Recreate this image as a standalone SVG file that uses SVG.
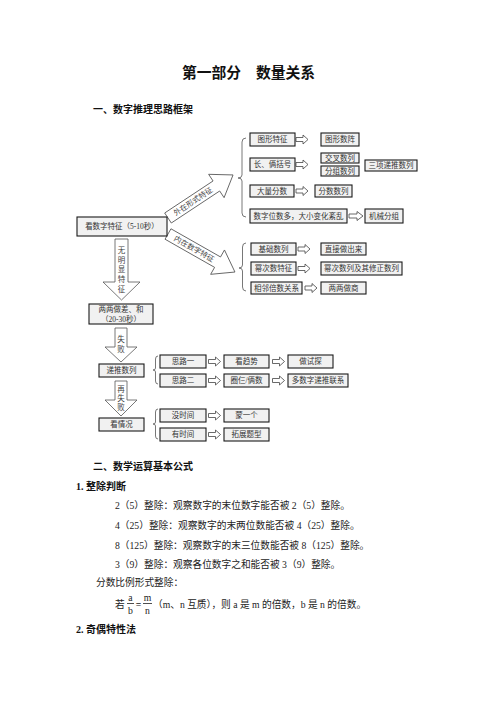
<svg xmlns="http://www.w3.org/2000/svg" width="496" height="702" viewBox="0 0 496 702">
<style>
text{font-family:"Liberation Serif","Noto Sans CJK SC",serif;}
.box{fill:#f1f1f1;stroke:#1a1a1a;stroke-width:1.1;}
.bt{font-size:7.5px;fill:#333;text-anchor:middle;}
.ha{fill:#fff;stroke:#444;stroke-width:0.8;}
.big{fill:#fff;stroke:#555;stroke-width:0.8;}
.br{fill:none;stroke:#555;stroke-width:0.8;}
.at{font-size:7.5px;fill:#444;text-anchor:middle;}
.body{font-size:9.7px;fill:#222;}
.hd{font-size:10px;font-weight:bold;fill:#111;}
</style>
<defs>
<polygon id="sa" class="ha" points="0,-2 7,-2 7,-4.5 12,0 7,4.5 7,2 0,2"/>
</defs>
<rect width="496" height="702" fill="#fff"/>

<g id="title">
<text x="248.5" y="78" font-size="14.8" font-weight="bold" text-anchor="middle" fill="#111">第一部分　数量关系</text>
<text x="93" y="113" class="hd">一、数字推理思路框架</text>
</g>

<g id="connectors">
<g transform="translate(168,218) rotate(-33.5)">
<polygon class="big" points="0,-6 58,-6 58,-14 78,0 58,14 58,6 0,6"/>
<text x="30" y="2.6" class="at">外在形式特征</text>
</g>
<g transform="translate(168,234) rotate(29.6)">
<polygon class="big" points="0,-6 57,-6 57,-14 77,0 57,14 57,6 0,6"/>
<text x="30" y="2.6" class="at">内在数字特征</text>
</g>
<polygon class="big" points="115,239 128,239 128,282 140,282 121.5,300 103,282 115,282"/>
<text class="at"><tspan x="121.5" y="253">无</tspan><tspan x="121.5" y="262.5">明</tspan><tspan x="121.5" y="272">显</tspan><tspan x="121.5" y="282">特</tspan><tspan x="121.5" y="292">征</tspan></text>
<polygon class="big" points="115,328 127,328 127,347 137,347 121,362 105,347 115,347"/>
<text class="at"><tspan x="121" y="342">失</tspan><tspan x="121" y="352">败</tspan></text>
<polygon class="big" points="115,381 127,381 127,400 137,400 121,416 105,400 115,400"/>
<text class="at"><tspan x="121" y="392">再</tspan><tspan x="121" y="401">失</tspan><tspan x="121" y="410">败</tspan></text>
<path class="br" d="M246,138 Q242,138 242,142 L242,175 Q242,178 238,178 Q242,178 242,181 L242,213 Q242,217 246,217"/>
<path class="br" d="M246,243 Q242.5,243 242.5,247 L242.5,265 Q242.5,268 239,268 Q242.5,268 242.5,271 L242.5,287 Q242.5,291 246,291"/>
<path class="br" d="M158,356 Q155.5,356 155.5,359 L155.5,368 Q155.5,370 153,370 Q155.5,370 155.5,372 L155.5,381 Q155.5,384 158,384"/>
<path class="br" d="M158,409 Q155.5,409 155.5,412 L155.5,422 Q155.5,424 153,424 Q155.5,424 155.5,426 L155.5,436 Q155.5,439 158,439"/>
<use href="#sa" x="296" y="139.5"/>
<use href="#sa" x="296" y="164.5"/>
<use href="#sa" x="296" y="191"/>
<polygon class="ha" points="349,214 357,214 357,211.5 363,216 357,220.5 357,218 349,218"/>
<use href="#sa" x="298" y="249"/>
<use href="#sa" x="298" y="268.5"/>
<use href="#sa" x="305" y="288"/>
<use href="#sa" x="208.5" y="361.5"/>
<use href="#sa" x="208.5" y="380.5"/>
<use href="#sa" x="208.5" y="415.5"/>
<use href="#sa" x="208.5" y="434.5"/>
<use href="#sa" x="272.5" y="361.5"/>
<use href="#sa" x="272.5" y="380.5"/>
</g>

<g id="n-main"><rect class="box" x="77" y="217" width="90" height="19"/><text class="bt" x="122" y="229.3">看数字特征（5-10秒）</text></g>
<g id="n-diff"><rect class="box" x="89" y="304" width="64" height="20"/><text class="bt" x="121" y="312">两两做差、和</text><text class="bt" x="121" y="321.5">（20-30秒）</text></g>

<g id="n-u1"><rect class="box" x="250" y="133" width="45" height="13"/><text class="bt" x="272.5" y="142.3">图形特征</text></g>
<g id="n-u1r"><rect class="box" x="321" y="133" width="38" height="13"/><text class="bt" x="340" y="142.3">图形数阵</text></g>
<g id="n-u2"><rect class="box" x="250" y="158" width="45" height="13"/><text class="bt" x="272.5" y="167.3">长、俩括号</text></g>
<g id="n-u2a"><rect class="box" x="321" y="153" width="38" height="10"/><text class="bt" x="340" y="160.7">交叉数列</text></g>
<g id="n-u2b"><rect class="box" x="321" y="166" width="38" height="10"/><text class="bt" x="340" y="173.7">分组数列</text></g>
<g id="n-u2c"><rect class="box" x="365" y="160" width="52" height="11"/><text class="bt" x="391" y="168.3">三项递推数列</text></g>
<g id="n-u3"><rect class="box" x="250" y="185" width="44" height="12"/><text class="bt" x="272" y="193.8">大量分数</text></g>
<g id="n-u3r"><rect class="box" x="315" y="185" width="37" height="12"/><text class="bt" x="333.5" y="193.8">分数数列</text></g>
<g id="n-u4"><rect class="box" x="250" y="209" width="97" height="14"/><text class="bt" x="298.5" y="218.8">数字位数多，大小变化紊乱</text></g>
<g id="n-u4r"><rect class="box" x="365" y="209" width="38" height="14"/><text class="bt" x="384" y="218.8">机械分组</text></g>

<g id="n-l1"><rect class="box" x="251" y="243" width="45" height="12"/><text class="bt" x="273.5" y="251.8">基础数列</text></g>
<g id="n-l1r"><rect class="box" x="321" y="243" width="45" height="12"/><text class="bt" x="343.5" y="251.8">直接做出来</text></g>
<g id="n-l2"><rect class="box" x="251" y="262" width="45" height="13"/><text class="bt" x="273.5" y="271.3">幂次数特征</text></g>
<g id="n-l2r"><rect class="box" x="321" y="262" width="81" height="13"/><text class="bt" x="361.5" y="271.3">幂次数列及其修正数列</text></g>
<g id="n-l3"><rect class="box" x="251" y="282" width="51" height="12"/><text class="bt" x="276.5" y="290.8">相邻倍数关系</text></g>
<g id="n-l3r"><rect class="box" x="321" y="282" width="45" height="12"/><text class="bt" x="343.5" y="290.8">两两做商</text></g>

<g id="n-rec"><rect class="box" x="99" y="364" width="45" height="13"/><text class="bt" x="121.5" y="373.3">递推数列</text></g>
<g id="n-case"><rect class="box" x="99" y="418" width="45" height="13"/><text class="bt" x="121.5" y="427.3">看情况</text></g>
<g id="n-s1"><rect class="box" x="160" y="355" width="46" height="13"/><text class="bt" x="183" y="364.3">思路一</text></g>
<g id="n-s1a"><rect class="box" x="224" y="355" width="45" height="13"/><text class="bt" x="246.5" y="364.3">看趋势</text></g>
<g id="n-s1b"><rect class="box" x="288" y="355" width="45" height="13"/><text class="bt" x="310.5" y="364.3">做试探</text></g>
<g id="n-s2"><rect class="box" x="160" y="374" width="46" height="13"/><text class="bt" x="183" y="383.3">思路二</text></g>
<g id="n-s2a"><rect class="box" x="224" y="374" width="45" height="13"/><text class="bt" x="246.5" y="383.3">圈仨/俩数</text></g>
<g id="n-s2b"><rect class="box" x="288" y="374" width="60" height="13"/><text class="bt" x="318" y="383.3">多数字递推联系</text></g>
<g id="n-t1"><rect class="box" x="160" y="409" width="46" height="13"/><text class="bt" x="183" y="418.3">没时间</text></g>
<g id="n-t1a"><rect class="box" x="224" y="409" width="45" height="13"/><text class="bt" x="246.5" y="418.3">蒙一个</text></g>
<g id="n-t2"><rect class="box" x="160" y="428" width="46" height="13"/><text class="bt" x="183" y="437.3">有时间</text></g>
<g id="n-t2a"><rect class="box" x="224" y="428" width="45" height="13"/><text class="bt" x="246.5" y="437.3">拓展题型</text></g>

<g id="section2">
<text x="93" y="470" class="hd">二、数学运算基本公式</text>
<text x="76" y="490" class="hd">1. 整除判断</text>
<text x="115" y="509" class="body">2（5）整除：观察数字的末位数字能否被 2（5）整除。</text>
<text x="115" y="529" class="body">4（25）整除：观察数字的末两位数能否被 4（25）整除。</text>
<text x="115" y="549" class="body">8（125）整除：观察数字的末三位数能否被 8（125）整除。</text>
<text x="115" y="568" class="body">3（9）整除：观察各位数字之和能否被 3（9）整除。</text>
<text x="96" y="586" class="body">分数比例形式整除：</text>
<text x="115" y="608" class="body">若</text>
<text x="130.5" y="601" class="body" text-anchor="middle">a</text>
<line x1="127" y1="603.5" x2="134" y2="603.5" stroke="#222" stroke-width="0.8"/>
<text x="130.5" y="614" class="body" text-anchor="middle">b</text>
<text x="138.5" y="607.5" class="body" text-anchor="middle" font-weight="bold">=</text>
<text x="147.5" y="601" class="body" text-anchor="middle">m</text>
<line x1="143" y1="603.5" x2="152" y2="603.5" stroke="#222" stroke-width="0.8"/>
<text x="147.5" y="614" class="body" text-anchor="middle">n</text>
<text x="153" y="608" class="body">（m、n 互质），则 a 是 m 的倍数，b 是 n 的倍数。</text>
<text x="76" y="633" class="hd">2. 奇偶特性法</text>
</g>
</svg>
